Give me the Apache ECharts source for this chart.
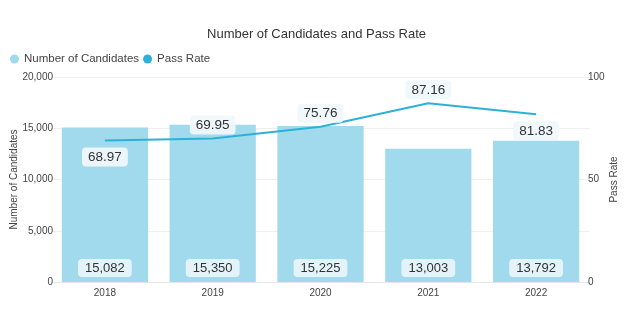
<!DOCTYPE html>
<html><head><meta charset="utf-8">
<script src="https://cdn.jsdelivr.net/npm/echarts@6/dist/echarts.min.js"></script>
<style>html,body{margin:0;padding:0;background:#fff}#c{width:633px;height:328px}</style>
</head><body><div id="c"></div>
<script>
const categories = ['2018','2019','2020','2021','2022'];
const candidates = [15082, 15350, 15225, 13003, 13792];
const passRate = [68.97, 69.95, 75.76, 87.16, 81.83];
const passLabelPos = ['bottom','top','top','top','bottom'];
const leftTicks = [0, 5000, 10000, 15000, 20000];
const rightTicks = [0, 50, 100];

const chart = echarts.init(document.getElementById('c'));
const font = 'Arial, Liberation Sans, sans-serif';
chart.setOption({
  animation: false,
  textStyle: {fontFamily: font},
  title: {text: 'Number of Candidates and Pass Rate', left: 'center', top: 23,
    textStyle: {fontSize: 13, fontWeight: 'normal', color: '#333', fontFamily: font}},
  legend: {left: 5, top: 48, itemWidth: 9, itemHeight: 9, itemGap: 4, icon: 'circle',
    textStyle: {fontSize: 11.5, color: '#444', fontFamily: font},
    data: ['Number of Candidates', 'Pass Rate']},
  grid: {left: 51, right: 43, top: 77, bottom: 46, containLabel: false, outerBoundsMode: 'none'},
  xAxis: {type: 'category', data: categories,
    axisLine: {lineStyle: {color: '#e6e6e6'}}, axisTick: {show: false},
    axisLabel: {fontSize: 10, color: '#444', margin: 6}},
  yAxis: [
    {type: 'value', min: leftTicks[0], max: leftTicks[leftTicks.length-1], interval: 5000,
      name: 'Number of Candidates', nameLocation: 'middle', nameGap: 32, nameRotate: 90,
      nameMoveOverlap: false,
      nameTextStyle: {fontSize: 10, color: '#444'},
      axisLabel: {fontSize: 10, color: '#444', margin: -2, formatter: v => v.toLocaleString('en-US')},
      splitLine: {lineStyle: {color: '#efefef'}}},
    {type: 'value', min: rightTicks[0], max: rightTicks[rightTicks.length-1], interval: 50,
      name: 'Pass Rate', nameLocation: 'middle', nameGap: 19, nameRotate: 90,
      nameMoveOverlap: false,
      nameTextStyle: {fontSize: 10, color: '#444'},
      axisLabel: {fontSize: 10, color: '#444', margin: -2},
      splitLine: {show: false}}
  ],
  series: [
    {name: 'Number of Candidates', type: 'bar', data: candidates, barCategoryGap: '20%',
      itemStyle: {color: '#a0daec'},
      label: {show: true, position: 'insideBottom', distance: 5, fontSize: 13, color: '#333',
        backgroundColor: '#e4f3f9', borderRadius: 4, padding: [3, 7, 2, 7],
        formatter: p => p.value.toLocaleString('en-US')}},
    {name: 'Pass Rate', type: 'line', yAxisIndex: 1, showSymbol: true, symbol: 'circle', symbolSize: 0,
      itemStyle: {color: '#2db1d9'}, lineStyle: {width: 2, color: '#2db1d9'},
      data: passRate.map((v, i) => ({value: v,
        label: {position: passLabelPos[i], distance: passLabelPos[i] === 'top' ? 4 : 7}})),
      label: {show: true, fontSize: 13.5, color: '#333', backgroundColor: 'rgba(240,248,251,0.95)',
        borderRadius: 4, padding: [3, 6, 2, 6]}}
  ]
});
</script></body></html>
